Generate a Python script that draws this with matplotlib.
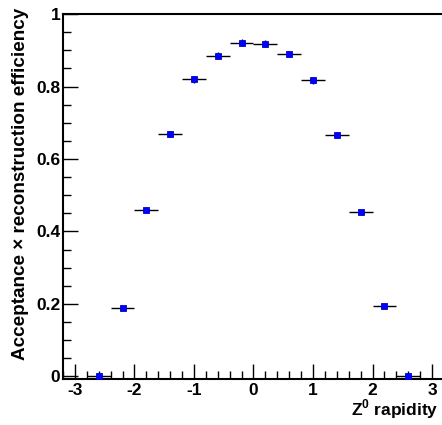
import matplotlib
matplotlib.use("Agg")
import matplotlib.pyplot as plt
from matplotlib.ticker import MultipleLocator

rapidity = [-2.6, -2.2, -1.8, -1.4, -1.0, -0.6, -0.2, 0.2, 0.6, 1.0, 1.4, 1.8, 2.2, 2.6]
bin_halfwidth = [0.2] * 14
efficiency = [0.002, 0.188, 0.458, 0.670, 0.820, 0.885, 0.921, 0.918, 0.890, 0.817, 0.667, 0.454, 0.193, 0.002]
eff_err = [0.003, 0.004, 0.006, 0.008, 0.009, 0.009, 0.009, 0.009, 0.009, 0.009, 0.008, 0.006, 0.004, 0.003]

plt.rcParams['font.family'] = ['Liberation Sans', 'DejaVu Sans']
plt.rcParams['font.weight'] = 'bold'
plt.rcParams['mathtext.fontset'] = 'custom'
plt.rcParams['mathtext.bf'] = 'Liberation Sans:bold'
plt.rcParams['mathtext.rm'] = 'Liberation Sans:bold'

fig = plt.figure(figsize=(4.42, 4.25), dpi=100)
ax = fig.add_axes([0.1425, 0.1075, 0.862, 0.8595])

ax.errorbar(rapidity, efficiency, xerr=bin_halfwidth, yerr=eff_err, fmt='s',
            color='black', ecolor='black', elinewidth=1.0, capsize=0,
            markerfacecolor='#0000ff', markeredgecolor='#0000cc', markersize=4.5,
            markeredgewidth=0.6, zorder=3)

ax.set_xlim(-3.2, 3.2)
ax.set_ylim(-0.008, 1.0)

ax.xaxis.set_minor_locator(MultipleLocator(0.2))
ax.yaxis.set_minor_locator(MultipleLocator(0.05))

ax.set_xticks([-3, -2, -1, 0, 1, 2, 3])
ax.set_xticklabels(['-3', '-2', '-1', '0', '1', '2', '3'])
ax.set_yticks([0, 0.2, 0.4, 0.6, 0.8, 1.0])
ax.set_yticklabels(['0', '0.2', '0.4', '0.6', '0.8', '1'])

ax.tick_params(axis='both', which='major', direction='in', length=11, width=1.0,
               labelsize=12.5, top=False, right=False)
ax.tick_params(axis='both', which='minor', direction='in', length=5.5, width=1.0,
               top=False, right=False)
ax.tick_params(axis='x', which='major', pad=3)
ax.tick_params(axis='y', which='major', pad=2)
for lab in ax.get_xticklabels() + ax.get_yticklabels():
    lab.set_fontweight('bold')

for s in ['left', 'bottom', 'top']:
    ax.spines[s].set_linewidth(1.5)
ax.spines['right'].set_visible(False)

fig.text(0.992, 1 - 421 / 425, r'Z$^{\mathbf{0}}$ rapidity', ha='right', va='bottom',
         fontsize=12.5, fontweight='bold')
fig.text(0.047, 0.982, 'Acceptance × reconstruction efficiency', rotation=90,
         ha='center', va='top', fontsize=13.6, fontweight='bold')

fig.savefig('out.png', dpi=100)
